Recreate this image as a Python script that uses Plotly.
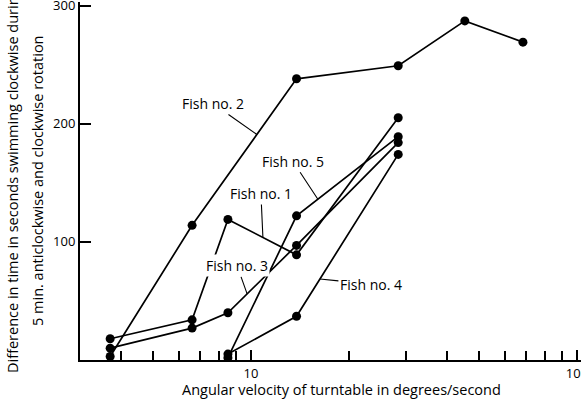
import math
import plotly.graph_objects as go

# ---- data ----
fish1_x = [3.7, 6.6, 8.5, 13.8, 28.3]
fish1_y = [18, 34, 119, 89, 205]
fish2_x = [3.7, 6.6, 13.8, 28.3, 45.3, 68.3]
fish2_y = [3, 114, 238, 249, 287, 269]
fish3_x = [3.7, 6.6, 8.5, 13.8, 28.3]
fish3_y = [10, 27, 40, 97, 184]
fish4_x = [8.5, 13.8, 28.3]
fish4_y = [5, 37, 174]
fish5_x = [8.5, 13.8, 28.3]
fish5_y = [2, 122, 189]

names = ["Fish no. 1", "Fish no. 2", "Fish no. 3", "Fish no. 4", "Fish no. 5"]
xs = [fish1_x, fish2_x, fish3_x, fish4_x, fish5_x]
ys = [fish1_y, fish2_y, fish3_y, fish4_y, fish5_y]

major_ticks = [10, 100]
major_text = ["10", "100"]
minor_ticks = [4, 5, 6, 7, 8, 9, 20, 30, 40, 50, 60, 70, 80, 90]
y_ticks = [100, 200, 300]

# label placement: segment index, fraction along segment, text offset (px)
label_pos = {
    "Fish no. 1": (2, 0.51, -2, -44),
    "Fish no. 2": (1, 0.62, -44, -31),
    "Fish no. 3": (2, 0.28, -10, -28),
    "Fish no. 4": (1, 0.23, 51, 5),
    "Fish no. 5": (1, 0.21, -25, -38),
}

FONT = "Open Sans"

fig = go.Figure()
for n, x, y in zip(names, xs, ys):
    fig.add_trace(go.Scatter(
        x=x, y=y, mode="lines+markers", name=n,
        line=dict(color="black", width=1.7),
        marker=dict(color="black", size=9),
        showlegend=False,
    ))

annotations = []
for n, x, y in zip(names, xs, ys):
    seg, f, ax, ay = label_pos[n]
    lx0, lx1 = math.log10(x[seg]), math.log10(x[seg + 1])
    tx = lx0 + f * (lx1 - lx0)
    ty = y[seg] + f * (y[seg + 1] - y[seg])
    annotations.append(dict(
        x=tx, y=ty, xref="x", yref="y", text=n, showarrow=True,
        arrowhead=0, arrowwidth=1.1, arrowcolor="black", ax=ax, ay=ay,
        standoff=0, font=dict(family=FONT, size=14, color="black"),
        bgcolor="white", borderpad=1,
    ))

# axis titles
annotations.append(dict(
    text="Angular velocity of turntable in degrees/second",
    xref="paper", yref="paper", x=0.521, y=0, yanchor="middle", yshift=-29,
    showarrow=False, font=dict(family=FONT, size=14.5, color="black"),
))
annotations.append(dict(
    text="Difference in time in seconds swimming clockwise during",
    xref="paper", yref="paper", x=0, y=0.5, xanchor="center", yanchor="middle",
    xshift=-68, textangle=-90, showarrow=False,
    font=dict(family=FONT, size=14.5, color="black"),
))
annotations.append(dict(
    text="5 min. anticlockwise and clockwise rotation",
    xref="paper", yref="paper", x=0, y=0.5, xanchor="center", yanchor="middle",
    xshift=-43, textangle=-90, showarrow=False,
    font=dict(family=FONT, size=14.5, color="black"),
))

fig.update_layout(
    width=581, height=402,
    margin=dict(l=80, r=0, t=2, b=42),
    paper_bgcolor="white", plot_bgcolor="white",
    font=dict(family=FONT, size=13, color="black"),
    annotations=annotations,
    xaxis=dict(
        type="log", range=[math.log10(2.99), math.log10(2.99) + 501 / 326],
        showline=True, linecolor="black", linewidth=2, showgrid=False, zeroline=False,
        tickmode="array", tickvals=major_ticks, ticktext=major_text,
        ticks="inside", ticklen=10, tickwidth=1.5, tickcolor="black",
        tickfont=dict(family=FONT, size=13, color="black"),
        ticklabeloverflow="allow",
        minor=dict(tickmode="array", tickvals=minor_ticks, ticks="inside",
                   ticklen=9, tickwidth=1.5, tickcolor="black", showgrid=False),
        automargin=False,
    ),
    yaxis=dict(
        range=[0, 303],
        showline=True, linecolor="black", linewidth=2, showgrid=False, zeroline=False,
        tickmode="array", tickvals=y_ticks,
        ticks="inside", ticklen=11, tickwidth=1.5, tickcolor="black",
        tickfont=dict(family=FONT, size=13, color="black"),
        ticklabeloverflow="allow",
        automargin=False,
    ),
)

fig.write_html("out.html")
